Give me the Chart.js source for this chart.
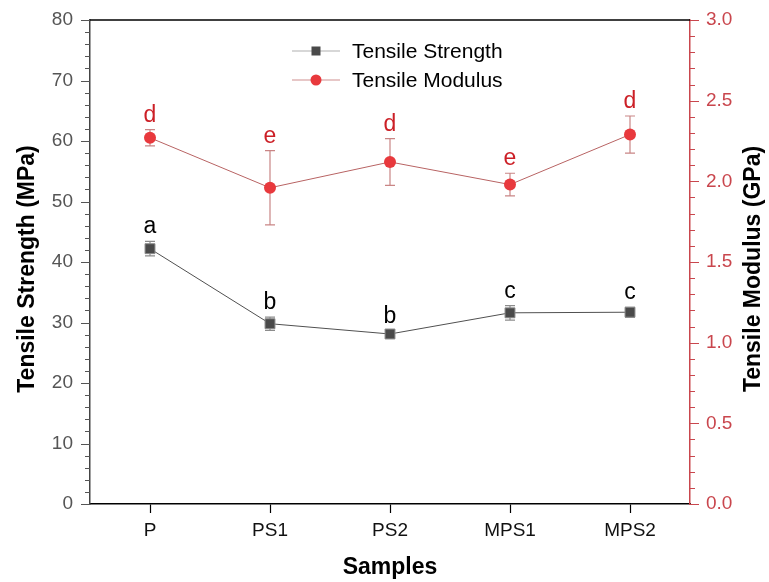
<!DOCTYPE html>
<html>
<head>
<meta charset="utf-8">
<script src="https://cdn.jsdelivr.net/npm/chart.js@4.4.1/dist/chart.umd.min.js"></script>
<style>
  html, body { margin: 0; padding: 0; background: #fff; }
</style>
</head>
<body>
<canvas id="myChart" width="769" height="582"></canvas>
<script>
// data
const samples = ["P", "PS1", "PS2", "MPS1", "MPS2"];
const strength = [42.2, 29.8, 28.1, 31.6, 31.7];
const strengthErr = [1.2, 1.1, 0.5, 1.2, 0.8];
const strengthLetters = ["a", "b", "b", "c", "c"];
const modulus = [2.27, 1.96, 2.12, 1.98, 2.29];
const modulusErr = [0.05, 0.23, 0.145, 0.07, 0.115];
const modulusLetters = ["d", "e", "d", "e", "d"];

const FONT = "'Liberation Sans', Arial, sans-serif";
const RED_AXIS = "#c9464d";

const extras = [
  { err: strengthErr, letters: strengthLetters, barColor: "#8c8c8c", letterColor: "#000" },
  { err: modulusErr, letters: modulusLetters, barColor: "#c98585", letterColor: "#cc1f26" },
];

const ctx = document.getElementById("myChart");

const figurePlugin = {
  id: "figure",
  beforeDatasetsDraw(chart) {
    const c = chart.ctx;
    const area = chart.chartArea;
    c.save();
    // frame top line
    c.strokeStyle = "#000";
    c.lineWidth = 1.5;
    c.beginPath();
    c.moveTo(area.left, area.top);
    c.lineTo(area.right, area.top);
    c.stroke();

    // error bars + letters
    chart.data.datasets.forEach((ds, i) => {
      const meta = chart.getDatasetMeta(i);
      const yScale = chart.scales[ds.yAxisID];
      const ex = extras[i];
      meta.data.forEach((pt, j) => {
        const top = yScale.getPixelForValue(ds.data[j] + ex.err[j]);
        const bot = yScale.getPixelForValue(ds.data[j] - ex.err[j]);
        c.strokeStyle = ex.barColor;
        c.lineWidth = 1.2;
        c.beginPath();
        c.moveTo(pt.x, top);
        c.lineTo(pt.x, bot);
        c.moveTo(pt.x - 5, top);
        c.lineTo(pt.x + 5, top);
        c.moveTo(pt.x - 5, bot);
        c.lineTo(pt.x + 5, bot);
        c.stroke();
        c.fillStyle = ex.letterColor;
        c.font = "23px " + FONT;
        c.textAlign = "center";
        c.textBaseline = "alphabetic";
        c.fillText(ex.letters[j], pt.x, top - 8);
      });
    });
    c.restore();
  },
  afterDraw(chart) {
    const c = chart.ctx;
    const area = chart.chartArea;
    c.save();
    // y ticks: major at labels, minor in between
    const drawTicks = (scale, side, color, isMajor) => {
      c.strokeStyle = color;
      c.lineWidth = 1.2;
      c.beginPath();
      scale.ticks.forEach((t) => {
        const y = Math.round(scale.getPixelForValue(t.value)) + 0.5;
        const len = isMajor(t.value) ? 9 : 5;
        const x0 = side === "left" ? area.left : area.right;
        c.moveTo(x0, y);
        c.lineTo(side === "left" ? x0 - len : x0 + len, y);
      });
      c.stroke();
    };
    drawTicks(chart.scales.y, "left", "#555", (v) => v % 10 === 0);
    drawTicks(chart.scales.y1, "right", RED_AXIS, (v) => Math.abs(v * 2 - Math.round(v * 2)) < 1e-6);

    // axis titles, both read bottom to top
    const midY = (area.top + area.bottom) / 2 + 7;
    c.fillStyle = "#000";
    c.font = "bold 23px " + FONT;
    c.textAlign = "center";
    c.textBaseline = "middle";
    c.save();
    c.translate(28, midY);
    c.rotate(-Math.PI / 2);
    c.fillText("Tensile Strength (MPa)", 0, 0);
    c.restore();
    c.save();
    c.translate(chart.scales.y1.right - 15, midY);
    c.rotate(-Math.PI / 2);
    c.fillText("Tensile Modulus (GPa)", 0, 0);
    c.restore();
    c.restore();

    // legend
    c.save();
    const lx = area.left + 202;
    const rows = [area.top + 31, area.top + 60];
    chart.data.datasets.forEach((ds, i) => {
      const y = rows[i];
      c.strokeStyle = i === 0 ? "#b0b0b0" : "#d09090";
      c.lineWidth = 1.2;
      c.beginPath();
      c.moveTo(lx, y);
      c.lineTo(lx + 48, y);
      c.stroke();
      c.fillStyle = ds.pointBackgroundColor;
      if (i === 0) {
        c.fillRect(lx + 24 - 4.5, y - 4.5, 9, 9);
      } else {
        c.beginPath();
        c.arc(lx + 24, y, 5.5, 0, Math.PI * 2);
        c.fill();
      }
      c.fillStyle = "#000";
      c.font = "21px " + FONT;
      c.textAlign = "left";
      c.textBaseline = "middle";
      c.fillText(ds.label, lx + 60, y + 1);
    });
    c.restore();
  },
};

const fitY = (w) => (s) => {
  s.width = w;
  s.paddingTop = 0;
  s.paddingBottom = 0;
};

const chart = new Chart(ctx, {
  type: "line",
  data: {
    labels: samples,
    datasets: [
      {
        label: "Tensile Strength",
        data: strength,
        yAxisID: "y",
        borderColor: "#505050",
        borderWidth: 1,
        pointStyle: "rect",
        pointRadius: 7,
        pointBackgroundColor: "#4a4a4a",
        pointBorderColor: "#8a8a8a",
        pointBorderWidth: 1,
        tension: 0,
      },
      {
        label: "Tensile Modulus",
        data: modulus,
        yAxisID: "y1",
        borderColor: "#b86363",
        borderWidth: 1,
        pointStyle: "circle",
        pointRadius: 6,
        pointBackgroundColor: "#e8393d",
        pointBorderColor: "#e8393d",
        pointBorderWidth: 0,
        tension: 0,
      },
    ],
  },
  options: {
    responsive: false,
    animation: false,
    layout: { padding: { top: 20, left: 0, right: 0, bottom: 0 } },
    plugins: {
      legend: { display: false },
      tooltip: { enabled: false },
    },
    scales: {
      x: {
        offset: true,
        grid: { drawOnChartArea: false, drawTicks: true, tickLength: 9, color: "#000", tickWidth: 1.2 },
        border: { color: "#000", width: 1.5 },
        ticks: { color: "#111", font: { family: FONT, size: 19 }, padding: 6 },
        title: {
          display: true,
          text: "Samples",
          color: "#000",
          font: { family: FONT, size: 23, weight: "bold" },
          padding: { top: 0, bottom: 1 },
        },
        afterFit: (s) => { s.height = 78; s.paddingLeft = 0; s.paddingRight = 0; },
      },
      y: {
        position: "left",
        min: 0,
        max: 80,
        grid: { drawOnChartArea: false, drawTicks: false },
        border: { color: "#444", width: 1.5 },
        ticks: {
          stepSize: 2,
          autoSkip: false,
          color: "#555",
          font: { family: FONT, size: 19 },
          padding: 17,
          callback: (v) => (v % 10 === 0 ? v : ""),
        },
        afterFit: fitY(90),
      },
      y1: {
        position: "right",
        min: 0,
        max: 3,
        grid: { drawOnChartArea: false, drawTicks: false },
        border: { color: RED_AXIS, width: 1.5 },
        ticks: {
          stepSize: 0.1,
          autoSkip: false,
          color: RED_AXIS,
          font: { family: FONT, size: 19 },
          padding: 16,
          callback: (v) => (Math.abs(v * 2 - Math.round(v * 2)) < 1e-6 ? v.toFixed(1) : ""),
        },
        afterFit: fitY(79),
      },
    },
  },
  plugins: [figurePlugin],
});
</script>
</body>
</html>
